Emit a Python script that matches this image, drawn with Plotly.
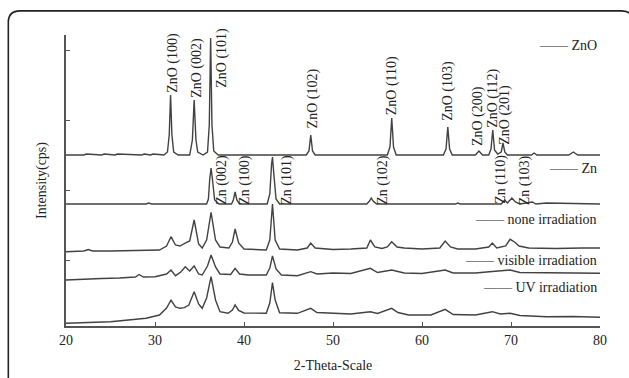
import plotly.graph_objects as go

# ---------------- data (2-theta in degrees, intensity in a.u.) ----------------
# stacking offsets of each pattern
pattern_names = ["ZnO", "Zn", "none irradiation", "visible irradiation", "UV irradiation"]
stack_offsets = [171, 122, 78, 53, 9]

zno_2theta = [20, 22, 22.3, 24, 24.3, 25.5, 25.8, 28.5, 28.8, 29.5, 29.8, 31.0, 31.4, 31.6, 31.75, 31.9,
              32.1, 32.6, 33.9, 34.2, 34.4, 34.6, 34.8, 35.4, 35.9, 36.1, 36.25, 36.4, 36.6, 37.1, 47.0,
              47.3, 47.5, 47.7, 48.0, 56.1, 56.4, 56.6, 56.8, 57.1, 62.4, 62.7, 62.9, 63.1, 63.4, 66.0,
              66.4, 66.8, 67.5, 67.75, 67.95, 68.15, 68.5, 68.9, 69.1, 69.3, 69.6, 72.3, 72.6, 72.9,
              76.5, 77.0, 77.5, 80]
zno_int = [0, 0, 1, 0, 1, 0, 1, 0, 1, 0, 1, 0, 3, 20, 60, 20,
           3, 0, 0, 15, 55, 15, 3, 0, 3, 30, 117, 30, 4, 0, 0,
           4, 20, 4, 0, 0, 8, 37, 8, 0, 0, 6, 28, 6, 0, 0,
           4, 0, 0, 6, 25, 5, 1, 3, 12, 3, 0, 0, 2, 0,
           0, 3, 0, 0]

zn_2theta = [20, 21, 21.3, 22, 29, 29.3, 29.6, 35.8, 36.0, 36.15, 36.3, 36.45, 36.7, 37.2, 38.6, 38.8,
             39.0, 39.2, 39.5, 42.6, 42.9, 43.1, 43.2, 43.35, 43.6, 44.0, 53.8, 54.1, 54.3, 54.5, 54.9,
             63.8, 64.0, 64.3, 67.5, 68.9, 69.3, 69.6, 70.1, 70.5, 71.0, 72.4, 72.8, 74.0, 80]
zn_int = [0, 0.5, 0, 0, 0, 1, 0, 0, 5, 25, 36, 25, 4, 0, 0, 4,
          12, 4, 0, 0, 10, 40, 47, 30, 5, 0, 0, 3, 6, 3, 0,
          0, 1, 0, 0.5, 0, 4, 1, 6, 2, 0, 2, 0, 1, 0]

none_2theta = [20, 22, 22.5, 23, 25, 27, 29, 30.5, 31.3, 31.8, 32.3, 32.8, 33.5, 33.9, 34.4, 34.9, 35.3,
               35.8, 36.3, 36.8, 37.3, 38.3, 38.7, 39.0, 39.4, 40, 42.5, 42.9, 43.2, 43.5, 44, 46, 47.1,
               47.5, 48, 50, 52, 53.8, 54.2, 54.7, 55.5, 56.1, 56.6, 57.2, 58, 60, 62, 62.6, 63.2, 64,
               66, 67.5, 67.9, 68.4, 69.4, 69.9, 70.4, 70.9, 72, 75, 78, 80]
none_int = [-3.7, -3, -1.5, -3, -3, -2.5, -2.7, -2, 2, 11.3, 3, 2, 5.3, 7, 28, 4, 0,
            8, 35.7, 8, 1, 0, 6, 19, 5, -1, -2, 8, 44, 8, -1, -2, 0,
            5, 0, -1.5, -1, 0, 8, 1, -0.5, 1, 6.3, 1, 0, -1, 0, 7, 1, -1,
            -1, 1, 5, 0, 2, 8.7, 6, 2, 0, -0.5, 0, 0]

visible_2theta = [20, 22, 24, 26, 27.8, 28.2, 28.7, 30, 31.3, 31.8, 32.3, 32.9, 33.4, 33.9, 34.4, 34.9,
                  35.3, 35.9, 36.3, 36.8, 37.3, 38.5, 39.0, 39.5, 40.5, 42.5, 42.9, 43.2, 43.6, 44.2, 46,
                  47.5, 48.2, 50, 52, 54.2, 55, 56.6, 58, 60, 62.6, 63.5, 66, 67.9, 69.9, 71, 74, 77, 80]
visible_int = [-7, -6, -5.5, -5, -4, -1.5, -4, -3.7, -1, 3, -2.7, 1, 6.3, 2, 7, -1,
               -2, 7, 18, 6, -1, -1.5, 4.7, -1, -2, -2, 5, 17, 4, -2, -2.7,
               1.3, -1, 0, -0.5, 4.7, 0.5, 3, 0, -0.5, 3, 0, 0, 1.5, 3, 0.5, 0, -0.5, -0.3]

uv_2theta = [20, 22, 24, 25, 27, 29, 30.5, 31.3, 31.8, 32.3, 32.8, 33.3, 33.8, 34.4, 34.9, 35.3, 35.8,
             36.3, 36.8, 37.3, 38.2, 38.7, 39.0, 39.4, 40, 42.5, 42.9, 43.2, 43.5, 44, 46, 47.5, 48.2,
             50, 52, 54.2, 55, 56.6, 57.3, 58.5, 61, 62.6, 63.5, 66, 67.9, 68.8, 69.9, 71, 74, 77, 80]
uv_int = [-6.3, -5.5, -5, -4.7, -3, -1.3, 2, 9, 17, 10, 8.7, 9.3, 12, 25.3, 13, 8.7, 19,
          40.3, 17, 5.3, 3.7, 7, 12, 6.5, 4, 3.7, 14, 34.3, 17, 4.3, 3.7, 8.7, 4.5,
          3.5, 3, 5.3, 3.5, 8.7, 4.5, 2, 2, 7.7, 2.5, 2, 5.3, 3, 3.7, 1.5, 0.3, 0.5, -0.3]

pattern_x = [zno_2theta, zn_2theta, none_2theta, visible_2theta, uv_2theta]
pattern_y = [zno_int, zn_int, none_int, visible_int, uv_int]

# reflection labels
zno_labels = ["ZnO (100)", "ZnO (002)", "ZnO (101)", "ZnO (102)", "ZnO (110)", "ZnO (103)",
              "ZnO (200)", "ZnO (112)", "ZnO (201)"]
zno_label_x = [32.0, 34.7, 37.5, 47.8, 56.6, 62.9, 66.3, 67.9, 69.3]
zno_label_base = [60, 55, 65, 25, 38, 32, 7, 25, 8]

zn_labels = ["Zn (002)", "Zn (100)", "Zn (101)", "Zn (102)", "Zn (110)", "Zn (103)"]
zn_label_x = [37.5, 40.1, 44.8, 55.6, 68.8, 71.6]

x_ticks = [20, 30, 40, 50, 60, 70, 80]
legend_y = [281, 158, 107, 66, 39]

# ---------------- figure ----------------
LINE = "#424242"
FONT = "Liberation Serif"

fig = go.Figure()
for name, xs, ys, off in zip(pattern_names, pattern_x, pattern_y, stack_offsets):
    fig.add_trace(go.Scatter(x=xs, y=[v + off for v in ys], mode="lines", name=name,
                             line=dict(color=LINE, width=1.4), showlegend=False))

annotations = []
for t, x, b in zip(zno_labels, zno_label_x, zno_label_base):
    annotations.append(dict(x=x, y=stack_offsets[0] + b, xref="x", yref="y", text=t,
                            textangle=-90, showarrow=False, xanchor="center", yanchor="bottom",
                            font=dict(family=FONT, size=14, color="#222")))
for t, x in zip(zn_labels, zn_label_x):
    annotations.append(dict(x=x, y=stack_offsets[0] + 2, xref="x", yref="y", text=t,
                            textangle=-90, showarrow=False, xanchor="center", yanchor="top",
                            font=dict(family=FONT, size=14, color="#222")))
for name, ly in zip(pattern_names, legend_y):
    annotations.append(dict(x=1, y=ly, xref="paper", yref="y", text="\u2014\u2014 " + name,
                            showarrow=False, xanchor="right", yanchor="middle", xshift=-1,
                            font=dict(family=FONT, size=14, color="#222")))

# rounded frame around the whole picture (paper coordinates)
l, r, t, bt = -0.108, 1.062, 1.083, -0.25
rx, ry = 0.022, 0.04
frame = (f"M {l} {bt} L {l} {t-ry} Q {l} {t} {l+rx} {t} L {r-rx} {t} Q {r} {t} {r} {t-ry} "
         f"L {r} {bt}")

fig.update_layout(
    template="none",
    width=629, height=378,
    margin=dict(l=66, r=29, t=35, b=52, autoexpand=False),
    paper_bgcolor="white", plot_bgcolor="white",
    font=dict(family=FONT, size=14, color="#222"),
    annotations=annotations,
    shapes=[dict(type="path", path=frame, xref="paper", yref="paper",
                 line=dict(color="#222", width=1.6), layer="above")],
    xaxis=dict(range=[20, 80], tickvals=x_ticks, ticks="inside", ticklen=4,
               tickcolor="#555", showline=True, linecolor="#555", linewidth=1.5,
               showgrid=False, zeroline=False, tickfont=dict(size=14), automargin=False,
               title=dict(text="2-Theta-Scale", font=dict(size=14), standoff=14)),
    yaxis=dict(range=[0, 291], tickvals=[66, 136, 206, 276], ticks="inside", ticklen=4,
               tickcolor="#555", showticklabels=False, showline=True, linecolor="#555",
               linewidth=1.5, showgrid=False, zeroline=False, automargin=False,
               title=dict(text="Intensity(cps)", font=dict(size=14), standoff=14)),
)

fig.write_html("out.html", config={"displayModeBar": False},
               post_script="document.body.style.margin='0';document.body.style.overflow='hidden';")
